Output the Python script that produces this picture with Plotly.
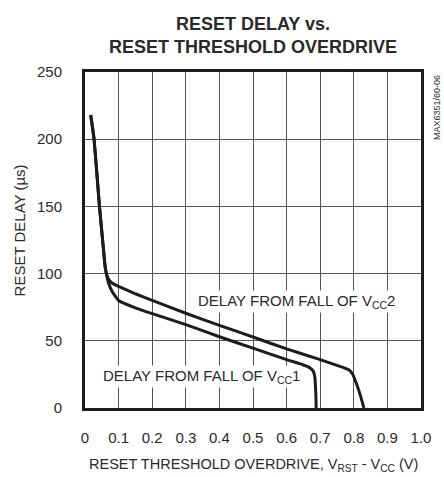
import plotly.graph_objects as go

# Data
vcc2_x = [0.017, 0.027, 0.043, 0.055, 0.060, 0.065, 0.07, 0.08, 0.10, 0.15, 0.20, 0.30, 0.40, 0.50, 0.60, 0.70, 0.77, 0.785, 0.796, 0.808, 0.82, 0.83]
vcc2_y = [218, 200, 150, 118, 105, 99, 96, 93, 90.5, 85, 80, 70.5, 61.5, 52.8, 44, 36, 30, 28.5, 25.5, 18, 9, 0]

vcc1_x = [0.017, 0.027, 0.043, 0.055, 0.060, 0.065, 0.07, 0.08, 0.10, 0.15, 0.20, 0.30, 0.40, 0.50, 0.60, 0.65, 0.669, 0.679, 0.684, 0.687, 0.688]
vcc1_y = [218, 200, 150, 118, 105, 98, 93, 87, 80, 74.5, 70.2, 62, 53, 44.5, 36, 32, 30, 27.5, 23, 10, 0]

x_ticks = [0, 0.1, 0.2, 0.3, 0.4, 0.5, 0.6, 0.7, 0.8, 0.9, 1.0]
x_ticktext = ["0", "0.1", "0.2", "0.3", "0.4", "0.5", "0.6", "0.7", "0.8", "0.9", "1.0"]
y_ticks = [0, 50, 100, 150, 200, 250]

FONT = "Liberation Sans, Arial, sans-serif"
TXT = "#2a2a2a"
LINE = "#1c1c1c"

fig = go.Figure()
for xs, ys in [(vcc2_x, vcc2_y), (vcc1_x, vcc1_y)]:
    fig.add_trace(go.Scatter(x=xs, y=ys, mode="lines",
                             line=dict(color=LINE, width=3, shape="spline", smoothing=0.4),
                             showlegend=False, hoverinfo="skip"))

fig.update_layout(
    width=444, height=477,
    margin=dict(l=85, r=23, t=72, b=69),
    paper_bgcolor="white", plot_bgcolor="white",
    font=dict(family=FONT, size=15, color=TXT),
    title=dict(text="<b>RESET DELAY vs.<br>RESET THRESHOLD OVERDRIVE</b>",
               x=(85 + 421) / 2 / 444, xanchor="center",
               y=1 - 30 / 477, yanchor="middle", yref="container",
               font=dict(family=FONT, size=18, color=TXT)),
)
fig.update_xaxes(range=[0, 1], tickvals=x_ticks, ticktext=x_ticktext,
                 showgrid=True, gridcolor="#555", gridwidth=1,
                 showline=True, linecolor=LINE, linewidth=3, mirror=True,
                 ticks="", ticklabelstandoff=14, zeroline=False, fixedrange=True,
                 tickfont=dict(size=15))
fig.update_yaxes(range=[0, 250], tickvals=y_ticks,
                 showgrid=True, gridcolor="#555", gridwidth=1,
                 showline=True, linecolor=LINE, linewidth=3, mirror=True,
                 ticks="", ticklabelstandoff=17, zeroline=False, fixedrange=True,
                 tickfont=dict(size=15))

fig.add_annotation(text="DELAY FROM FALL OF V<sub>CC</sub>2", x=0.63, y=79, xref="x", yref="y",
                   showarrow=False, bgcolor="white", font=dict(size=15, color=TXT), borderpad=1)
fig.add_annotation(text="DELAY FROM FALL OF V<sub>CC</sub>1", x=0.347, y=23.5, xref="x", yref="y",
                   showarrow=False, bgcolor="white", font=dict(size=15, color=TXT), borderpad=1)

fig.add_annotation(text="RESET THRESHOLD OVERDRIVE, V<sub>RST</sub> - V<sub>CC</sub> (V)",
                   x=0.5, y=-0.17, xref="paper", yref="paper", xanchor="center", yanchor="middle",
                   showarrow=False, font=dict(size=14.5, color=TXT))
fig.add_annotation(text="RESET DELAY (µs)", textangle=-90,
                   x=-0.195, y=0.53, xref="paper", yref="paper", xanchor="center", yanchor="middle",
                   showarrow=False, font=dict(size=15, color=TXT))
fig.add_annotation(text="MAX6351/60-06", textangle=-90,
                   x=(437 - 85) / 336, y=(408 - 108) / 336, xref="paper", yref="paper",
                   xanchor="center", yanchor="middle",
                   showarrow=False, font=dict(size=9, color=TXT))

fig.write_html("out.html", config={"displayModeBar": False},
               post_script="document.body.style.margin='0';document.body.style.padding='0';")
